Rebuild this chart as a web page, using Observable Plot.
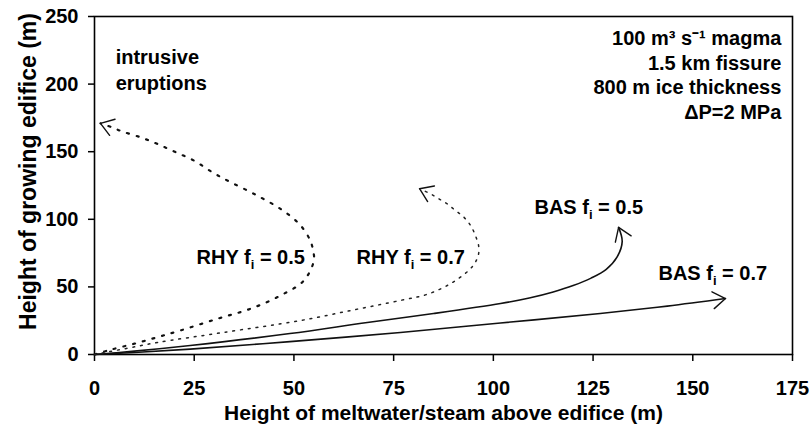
<!DOCTYPE html>
<html>
<head>
<meta charset="utf-8">
<script src="https://cdn.jsdelivr.net/npm/d3@7"></script>
<script src="https://cdn.jsdelivr.net/npm/@observablehq/plot@0.6"></script>
<style>
  body { margin: 0; background: #fff; }
</style>
</head>
<body>
<div id="chart"></div>
<script>
// ---- data ----
const xTicks = [0, 25, 50, 75, 100, 125, 150, 175];
const yTicks = [0, 50, 100, 150, 200, 250];
const xTitle = "Height of meltwater/steam above edifice (m)";
const yTitle = "Height of growing edifice (m)";

const rhy05X = [0, 4, 10, 16, 21.6, 30.8, 39.1, 46.6, 52.5, 55, 54.8, 54.1, 51.5, 47, 40.5, 33.3, 29.5, 24.9, 20.3, 15.7, 11.5, 6.9, 4.4, 1.5];
const rhy05Y = [0, 3.5, 8, 13, 17.8, 26.4, 33.8, 43.6, 54.7, 69.5, 76.9, 84.3, 96, 107, 118, 128.7, 134.9, 143.5, 149.7, 155.8, 160.7, 165, 168, 171];

const rhy07X = [0, 8, 15.8, 32.3, 51.6, 65, 76.7, 83.4, 89.2, 93.8, 95.5, 96.3, 96.3, 95.5, 94.3, 92.6, 90.5, 88.4, 86.3, 84.2, 81.5];
const rhy07Y = [0, 4.5, 8.9, 16.3, 25.1, 33, 40, 44.5, 52.3, 62.1, 68.3, 74.5, 80.6, 88, 95.4, 101.6, 106.5, 111.5, 115.2, 118.9, 122.6];

const bas05X = [0, 10, 24, 49, 68.4, 85, 101.8, 109, 115, 120, 124.5, 128.3, 131, 132.3, 131.4];
const bas05Y = [0, 2.5, 6.7, 15.5, 23.7, 30.3, 37.7, 41.8, 46.3, 51, 56.5, 63, 72, 83.5, 94];

const bas07X = [0, 10, 24, 49, 76.7, 101.8, 126.8, 143.6, 158.2];
const bas07Y = [0, 1.5, 4, 9.5, 16.3, 23.3, 30.3, 35.8, 41.4];

const noteTexts = ["intrusive", "eruptions", "RHY fᵢ = 0.5", "RHY fᵢ = 0.7", "BAS fᵢ = 0.5", "BAS fᵢ = 0.7"];
const infoTexts = ["100 m³ s⁻¹ magma", "1.5 km fissure", "800 m ice thickness", "ΔP=2 MPa"];

// ---- layout of annotations (data coordinates) ----
const noteX = [5.3, 5.3, 25.6, 65.7, 110.3, 141.4];
const noteY = [219.7, 200.4, 71.7, 71.7, 108.7, 59.9];
const infoX = 172.2;
const infoY = [233.7, 215.2, 197.5, 179];

const toRows = (xs, ys) => xs.map((x, i) => ({x, y: ys[i]}));
const notes = noteTexts.map((t, i) => ({t, x: noteX[i], y: noteY[i]}));
const infos = infoTexts.map((t, i) => ({t, x: infoX, y: infoY[i]}));

const font = "'Liberation Sans', Arial, sans-serif";

const chart = Plot.plot({
  width: 810,
  height: 434,
  marginLeft: 94,
  marginRight: 18,
  marginTop: 16,
  marginBottom: 80,
  style: {fontFamily: font, fontSize: "20px", color: "#000", background: "#fff", overflow: "visible"},
  x: {domain: [0, 175], ticks: xTicks, label: null},
  y: {domain: [0, 250], ticks: yTicks, label: null},
  marks: [
    Plot.axisX({ticks: xTicks, tickSize: 7, tickPadding: 19, fontSize: 20, fontWeight: "bold", strokeWidth: 1.5, label: null, tickFormat: d => String(d)}),
    Plot.axisY({ticks: yTicks, tickSize: 6, tickPadding: 10, fontSize: 20, fontWeight: "bold", strokeWidth: 1.5, label: null, tickFormat: d => String(d)}),
    Plot.frame({stroke: "#000", strokeWidth: 1.6}),
    Plot.line(toRows(bas07X, bas07Y), {x: "x", y: "y", curve: "catmull-rom", stroke: "#111", strokeWidth: 1.6, markerEnd: "arrow"}),
    Plot.line(toRows(bas05X, bas05Y), {x: "x", y: "y", curve: "catmull-rom", stroke: "#111", strokeWidth: 1.6, markerEnd: "arrow"}),
    Plot.line(toRows(rhy05X, rhy05Y), {x: "x", y: "y", curve: "catmull-rom", stroke: "#111", strokeWidth: 2.2, strokeDasharray: "2,8", markerEnd: "arrow"}),
    Plot.line(toRows(rhy07X, rhy07Y), {x: "x", y: "y", curve: "catmull-rom", stroke: "#222", strokeWidth: 1.5, strokeDasharray: "1.8,6", markerEnd: "arrow"}),
    Plot.text(notes, {x: "x", y: "y", text: "t", textAnchor: "start", lineAnchor: "middle", fontSize: 20, fontWeight: "bold", fill: "#000"}),
    Plot.text(infos, {x: "x", y: "y", text: "t", textAnchor: "end", lineAnchor: "middle", fontSize: 20, fontWeight: "bold", fill: "#000"}),
    Plot.text([xTitle], {text: d => d, frameAnchor: "bottom", dy: 59, textAnchor: "middle", lineAnchor: "middle", fontSize: 21, fontWeight: "bold", fill: "#000"}),
    Plot.text([yTitle], {text: d => d, frameAnchor: "left", dx: -66, dy: -14, rotate: -90, textAnchor: "middle", lineAnchor: "middle", fontSize: 23, fontWeight: "bold", fill: "#000"})
  ]
});

// open V arrowheads like the reference
chart.querySelectorAll("marker").forEach(m => {
  m.setAttribute("viewBox", "-18 -12 22 24");
  m.setAttribute("markerWidth", 22);
  m.setAttribute("markerHeight", 24);
  m.setAttribute("markerUnits", "userSpaceOnUse");
  const p = m.querySelector("path");
  if (p) {
    p.setAttribute("d", "M-12.5,-8.5L0,0L-12.5,8.5");
    p.setAttribute("stroke-dasharray", "none");
    p.setAttribute("stroke-width", 1.4);
    p.setAttribute("stroke", "#111");
  }
});

// real subscript i in "f_i"
chart.querySelectorAll("text").forEach(t => {
  const s = t.textContent;
  if (!s.includes("ᵢ") || t.children.length) return;
  const [a, b] = s.split("ᵢ");
  t.textContent = "";
  const ns = "http://www.w3.org/2000/svg";
  t.appendChild(document.createTextNode(a));
  const sub = document.createElementNS(ns, "tspan");
  sub.setAttribute("dy", "5");
  sub.setAttribute("font-size", "13");
  sub.textContent = "i";
  t.appendChild(sub);
  const rest = document.createElementNS(ns, "tspan");
  rest.setAttribute("dy", "-5");
  rest.textContent = b;
  t.appendChild(rest);
});

document.getElementById("chart").appendChild(chart);
</script>
</body>
</html>
